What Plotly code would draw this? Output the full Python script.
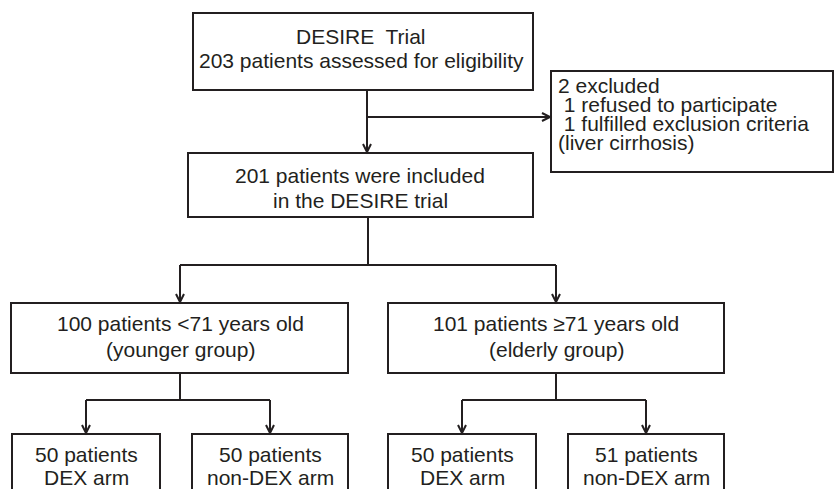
import plotly.graph_objects as go

# ---- data: box texts ----
top_lines = ["DESIRE\u00a0 Trial", "203 patients assessed for eligibility"]
excl_lines = ["2 excluded", "\u00a01 refused to participate", "\u00a01 fulfilled exclusion criteria", "(liver cirrhosis)"]
incl_lines = ["201 patients were included", "in the DESIRE trial"]
group_lines = [["100 patients <71 years old", "(younger group)"],
               ["101 patients \u226571 years old", "(elderly group)"]]
arm_lines = [["50 patients", "DEX arm"], ["50 patients", "non-DEX arm"],
             ["50 patients", "DEX arm"], ["51 patients", "non-DEX arm"]]

# ---- layout geometry (pixels) ----
C = "#231f20"
LW = 2
FONT = dict(family="Liberation Sans, Arial, sans-serif", size=21, color=C)

boxes = {
    "top": (193, 533, 13, 90),
    "excl": (551, 833, 71, 172),
    "incl": (188, 533, 153, 217),
    "young": (11, 348, 303, 373),
    "old": (388, 724, 303, 373),
    "a0": (12, 160, 434, 500),
    "a1": (192, 348, 434, 500),
    "a2": (388, 536, 434, 500),
    "a3": (568, 724, 434, 500),
}

fig = go.Figure()
shapes = []
annotations = []

for (x0, x1, y0, y1) in boxes.values():
    shapes.append(dict(type="rect", x0=x0, x1=x1, y0=y0, y1=y1,
                       line=dict(color=C, width=LW), fillcolor="rgba(0,0,0,0)"))

def line(x0, y0, x1, y1):
    shapes.append(dict(type="line", x0=x0, y0=y0, x1=x1, y1=y1,
                       line=dict(color=C, width=LW)))

def arrow_down(x, y):
    shapes.append(dict(type="path", path=f"M {x-4},{y-8} L {x},{y} L {x+4},{y-8}",
                       line=dict(color=C, width=LW)))

def arrow_right(x, y):
    shapes.append(dict(type="path", path=f"M {x-8},{y-4} L {x},{y} L {x-8},{y+4}",
                       line=dict(color=C, width=LW)))

# connectors
line(367, 90, 367, 152); arrow_down(367, 152)
line(367, 117, 550, 117); arrow_right(550, 117)
line(368, 217, 368, 265)
line(180, 265, 556, 265)
line(180, 265, 180, 302); arrow_down(180, 302)
line(556, 265, 556, 302); arrow_down(556, 302)
line(180, 373, 180, 400)
line(86, 400, 270, 400)
line(86, 400, 86, 433); arrow_down(86, 433)
line(270, 400, 270, 433); arrow_down(270, 433)
line(556, 373, 556, 400)
line(462, 400, 646, 400)
line(462, 400, 462, 433); arrow_down(462, 433)
line(646, 400, 646, 433); arrow_down(646, 433)

def text(x, y, s, anchor="center"):
    annotations.append(dict(x=x, y=y, text=s, showarrow=False, xanchor=anchor,
                            yanchor="middle", font=FONT, borderpad=0))

text(361, 36, top_lines[0]); text(361, 60, top_lines[1])
for i, s in enumerate(excl_lines):
    text(557, 85 + i * 19.3, s, anchor="left")
text(360, 175, incl_lines[0]); text(360, 200, incl_lines[1])
for cx, lines in zip([180, 556], group_lines):
    text(cx, 323, lines[0]); text(cx, 349, lines[1])
for cx, lines in zip([86, 270, 462, 646], arm_lines):
    text(cx, 454, lines[0]); text(cx, 477, lines[1])

fig.update_layout(
    width=838, height=489, margin=dict(l=0, r=0, t=0, b=0),
    paper_bgcolor="white", plot_bgcolor="white",
    xaxis=dict(range=[0, 838], visible=False, fixedrange=True),
    yaxis=dict(range=[489, 0], visible=False, fixedrange=True),
    shapes=shapes, annotations=annotations, showlegend=False,
)
fig.write_html("out.html", config={"displayModeBar": False},
               post_script="document.body.style.margin='0';document.body.style.overflow='hidden';")
